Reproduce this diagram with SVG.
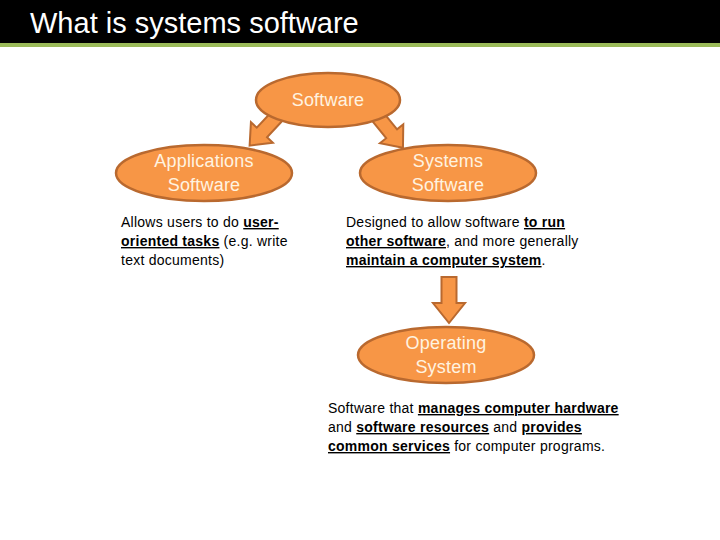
<svg xmlns="http://www.w3.org/2000/svg" width="720" height="540" viewBox="0 0 720 540">
<style>
.node{fill:#F79646;stroke:#B9692F;stroke-width:2.5}
.arrow{fill:#F79646;stroke:#B9692F;stroke-width:2;stroke-linejoin:miter}
.nt{font-family:"Liberation Sans",Arial,sans-serif;font-size:18px;letter-spacing:0.2px;fill:#FFF3E0;text-anchor:middle}
.body{font-family:"Liberation Sans",Arial,sans-serif;font-size:14px;letter-spacing:0.25px;fill:#000}
.u{font-weight:bold;text-decoration:underline}
</style>
<rect x="0" y="0" width="720" height="43" fill="#000"/>
<rect x="0" y="43" width="720" height="4" fill="#9BBB59"/>
<text x="30" y="33" font-family="Liberation Sans,Arial,sans-serif" font-size="29" fill="#fff">What is systems software</text>
<g id="connectors">
<polygon class="arrow" points="-7,0 7,0 7,28 15,28 0,46 -15,28 -7,28" transform="translate(281,112) rotate(43)"/>
<polygon class="arrow" points="-7,0 7,0 7,28 15,28 0,46 -15,28 -7,28" transform="translate(374,112) rotate(-39)"/>
<polygon class="arrow" points="441.5,277 456.5,277 456.5,303 465,303 449,323 433,303 441.5,303"/>
</g>
<g id="software">
<ellipse class="node" cx="328" cy="100" rx="72" ry="27"/>
<text class="nt" x="328" y="106">Software</text>
</g>
<g id="applications">
<ellipse class="node" cx="204" cy="173" rx="88" ry="28"/>
<text class="nt" x="204" y="167">Applications</text>
<text class="nt" x="204" y="191">Software</text>
</g>
<g id="systems">
<ellipse class="node" cx="448" cy="173" rx="88" ry="28"/>
<text class="nt" x="448" y="167">Systems</text>
<text class="nt" x="448" y="191">Software</text>
</g>
<g id="os">
<ellipse class="node" cx="446" cy="355" rx="88" ry="28"/>
<text class="nt" x="446" y="349">Operating</text>
<text class="nt" x="446" y="373">System</text>
</g>
<g id="app-desc">
<text class="body" x="121" y="227">Allows users to do <tspan class="u">user-</tspan></text>
<text class="body" x="121" y="246"><tspan class="u">oriented tasks</tspan> (e.g. write</text>
<text class="body" x="121" y="265">text documents)</text>
</g>
<g id="sys-desc">
<text class="body" x="346" y="227">Designed to allow software <tspan class="u">to run</tspan></text>
<text class="body" x="346" y="246"><tspan class="u">other software</tspan>, and more generally</text>
<text class="body" x="346" y="265"><tspan class="u">maintain a computer system</tspan>.</text>
</g>
<g id="os-desc">
<text class="body" x="328" y="413">Software that <tspan class="u">manages computer hardware</tspan></text>
<text class="body" x="328" y="432">and <tspan class="u">software resources</tspan> and <tspan class="u">provides</tspan></text>
<text class="body" x="328" y="451"><tspan class="u">common services</tspan> for computer programs.</text>
</g>
</svg>
